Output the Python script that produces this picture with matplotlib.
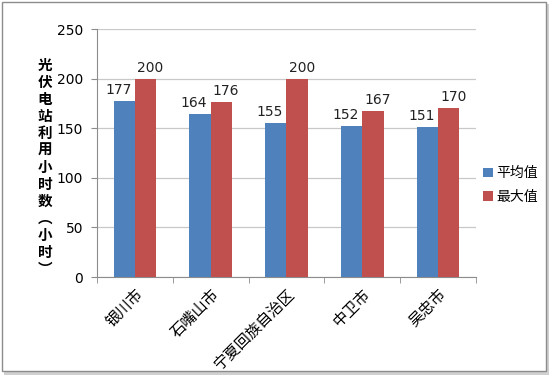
import matplotlib
matplotlib.use("Agg")
import matplotlib.pyplot as plt
from matplotlib.patches import Rectangle
import numpy as np

plt.rcParams['font.family'] = ['Noto Sans CJK SC', 'DejaVu Sans']

categories = ['银川市', '石嘴山市', '宁夏回族自治区', '中卫市', '吴忠市']
avg_values = [177, 164, 155, 152, 151]
max_values = [200, 176, 200, 167, 170]
series_names = ['平均值', '最大值']
yticks = [0, 50, 100, 150, 200, 250]
ylabel = '光伏电站利用小时数（小时）'

blue = '#4F81BD'
red = '#C0504D'

fig = plt.figure(figsize=(5.5, 3.75), dpi=100)
# outer border with shadow
fig.patches.append(Rectangle((0.008, 0.0), 0.99, 0.99, transform=fig.transFigure,
                             facecolor='#d0d0d0', edgecolor='none', zorder=0))
fig.patches.append(Rectangle((0.003, 0.01), 0.99, 0.985, transform=fig.transFigure,
                             facecolor='white', edgecolor='#8c8c8c', linewidth=1, zorder=1))

ax = fig.add_axes([0.1764, 0.2613, 0.689, 0.6613])
ax.set_zorder(2)
ax.patch.set_alpha(0)

x = np.arange(len(categories))
w = 0.28
b1 = ax.bar(x - w/2, avg_values, w, color=blue, label=series_names[0], zorder=3)
b2 = ax.bar(x + w/2, max_values, w, color=red, label=series_names[1], zorder=3)

for rect, v in zip(b1, avg_values):
    ax.text(rect.get_x() + rect.get_width()/2 - 0.08, v + 4, str(v), ha='center', va='bottom',
            fontsize=10, color='#222222', family=['DejaVu Sans'], zorder=4)
for rect, v in zip(b2, max_values):
    ax.text(rect.get_x() + rect.get_width()/2 + 0.06, v + 4, str(v), ha='center', va='bottom',
            fontsize=10, color='#222222', family=['DejaVu Sans'], zorder=4)

ax.set_xlim(-0.5, len(categories) - 0.5)
ax.set_ylim(0, 250)
ax.set_yticks(yticks)
ax.set_yticklabels([str(t) for t in yticks], fontsize=10, family=['DejaVu Sans'])
ax.yaxis.grid(True, color='#c8c8c8', linewidth=0.9, zorder=0)
ax.set_axisbelow(True)

ax.set_xticks(np.arange(len(categories) + 1) - 0.5, minor=True)
ax.set_xticks(x)
ax.set_xticklabels(categories, rotation=45, ha='right', va='top',
                   rotation_mode='anchor', fontsize=11)
ax.tick_params(axis='x', which='major', length=0, pad=6)
ax.tick_params(axis='x', which='minor', length=4, color='#8c8c8c')
ax.tick_params(axis='y', length=4, color='#8c8c8c', pad=6)

for s in ['top', 'right']:
    ax.spines[s].set_visible(False)
for s in ['left', 'bottom']:
    ax.spines[s].set_color('#8c8c8c')

fig.text(0.082, 0.555, '\n'.join(['光', '伏', '电', '站', '利', '用', '小', '时', '数', '︵', '小', '时', '︶']),
         ha='center', va='center', fontsize=10.5, fontweight='bold', linespacing=1.08)

leg = ax.legend(loc='center left', bbox_to_anchor=(0.985, 0.37), frameon=False,
                fontsize=10, handlelength=0.7, handleheight=0.7, handletextpad=0.3,
                labelspacing=0.7)

fig.savefig('out.png', dpi=100)
